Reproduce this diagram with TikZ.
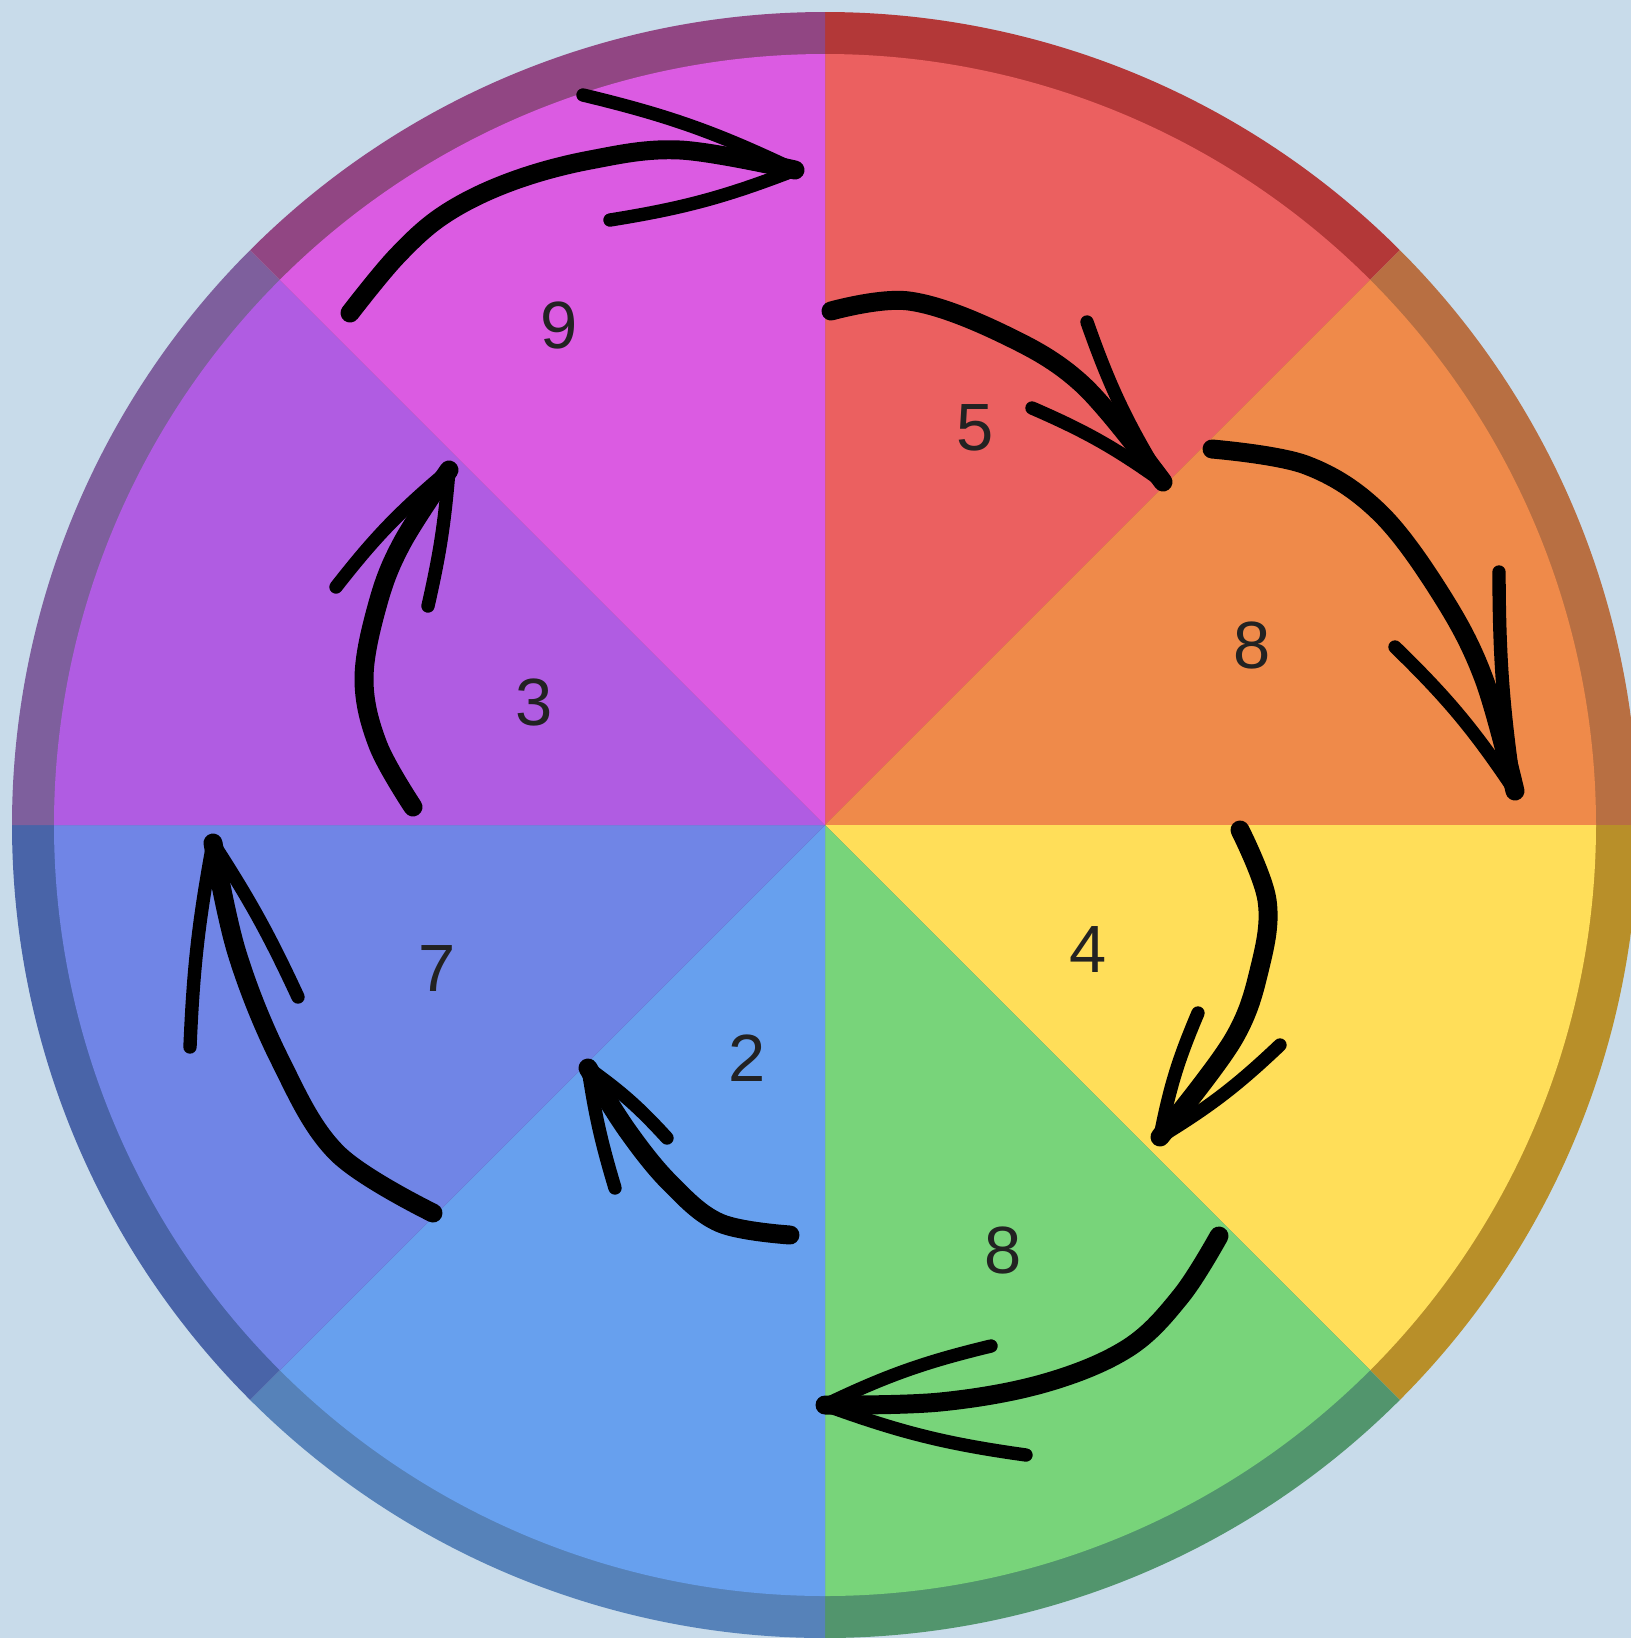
\documentclass[tikz,border=0pt]{standalone}
\usepackage{fontspec}
\setmainfont{Liberation Sans}
\usetikzlibrary{positioning}

\definecolor{bgblue}{HTML}{C8DBEA}
\definecolor{digit}{HTML}{222222}
\definecolor{faceRed}{HTML}{EB6060}    \definecolor{ringRed}{HTML}{B33838}
\definecolor{faceOrange}{HTML}{EF8A4A} \definecolor{ringOrange}{HTML}{B86F42}
\definecolor{faceYellow}{HTML}{FFDE59} \definecolor{ringYellow}{HTML}{B88F29}
\definecolor{faceGreen}{HTML}{78D47A}  \definecolor{ringGreen}{HTML}{52956D}
\definecolor{faceBlue}{HTML}{67A0EE}   \definecolor{ringBlue}{HTML}{5682B9}
\definecolor{faceIndigo}{HTML}{7085E6} \definecolor{ringIndigo}{HTML}{4964A8}
\definecolor{facePurple}{HTML}{B05CE2} \definecolor{ringPurple}{HTML}{7E5F9D}
\definecolor{faceMagenta}{HTML}{DB5BE2}\definecolor{ringMagenta}{HTML}{914683}

\begin{document}
\begin{tikzpicture}[x=0.01cm, y=0.01cm, font=\fontsize{19}{19}\selectfont,
    stroke/.style={line width=5.4pt, line cap=round, line join=round},
    barb/.style={line width=3.8pt, line cap=round}]
    \useasboundingbox (0,0) rectangle (1631,-1638);
    \fill[bgblue] (0,0) rectangle (1631,-1638);
    \clip (0,0) rectangle (1631,-1638);
    \coordinate (c) at (825,-825);
    % sectors with their rim
    \foreach \a/\col in {45/Red,0/Orange,-45/Yellow,-90/Green,-135/Blue,180/Indigo,135/Purple,90/Magenta} {
      \fill[ring\col] (c) -- ++(\a:813) arc[start angle=\a, end angle=\a+45, radius=813] -- cycle;
      \fill[face\col] (c) -- ++(\a:771) arc[start angle=\a, end angle=\a+45, radius=771] -- cycle;
    }
    % numbers
    \foreach \nm/\x/\y/\t in {n9/559/325/9, n5/975/428/5, n8a/1252/645/8, n4/1088/949/4,
                              n8b/1003/1250/8, n2/747/1058/2, n7/437/968/7, n3/534/702/3}
      \node[text=digit] (\nm) at (\x,-\y) {\t};
    % hand drawn arrows
    \draw[stroke] plot[smooth, tension=0.6] coordinates {(350,-313) (397,-256) (445,-214) (510,-182) (590,-160) (680,-150) (795,-170)};
    \draw[barb] (795,-170) to[bend right=6] (583,-95);
    \draw[barb] (795,-170) to[bend left=6] (610,-220);
    \draw[stroke] plot[smooth, tension=0.6] coordinates {(831,-311) (909,-301) (1003,-334) (1083,-385) (1163,-482)};
    \draw[barb] (1163,-482) to[bend left=6] (1087,-322);
    \draw[barb] (1163,-482) to[bend right=6] (1032,-408);
    \draw[stroke] plot[smooth, tension=0.6] coordinates {(1212,-449) (1306,-465) (1379,-512) (1442,-596) (1484,-679) (1515,-791)};
    \draw[barb] (1515,-791) to[bend left=4] (1499,-572);
    \draw[barb] (1515,-791) to[bend right=6] (1395,-647);
    \draw[stroke] plot[smooth, tension=0.6] coordinates {(1240,-830) (1267,-900) (1260,-967) (1233,-1040) (1160,-1137)};
    \draw[barb] (1160,-1137) to[bend left=6] (1198,-1013);
    \draw[barb] (1160,-1137) to[bend right=6] (1280,-1045);
    \draw[stroke] plot[smooth, tension=0.6] coordinates {(1219,-1236) (1181,-1296) (1128,-1348) (1045,-1383) (940,-1402) (825,-1405)};
    \draw[barb] (825,-1405) to[bend left=6] (991,-1346);
    \draw[barb] (825,-1405) to[bend right=6] (1026,-1455);
    \draw[stroke] plot[smooth, tension=0.6] coordinates {(790,-1235) (720,-1223) (670,-1183) (627,-1130) (588,-1068)};
    \draw[barb] (588,-1068) to[bend left=6] (667,-1138);
    \draw[barb] (588,-1068) to[bend right=4] (615,-1188);
    \draw[stroke] plot[smooth, tension=0.6] coordinates {(433,-1213) (337,-1153) (280,-1060) (237,-953) (213,-843)};
    \draw[barb] (213,-843) to[bend right=4] (190,-1047);
    \draw[barb] (213,-843) to[bend left=4] (298,-997);
    \draw[stroke] plot[smooth, tension=0.6] coordinates {(413,-807) (378,-745) (364,-679) (378,-603) (402,-543) (449,-470)};
    \draw[barb] (449,-470) to[bend right=6] (336,-587);
    \draw[barb] (449,-470) to[bend left=4] (428,-606);
\end{tikzpicture}
\end{document}
